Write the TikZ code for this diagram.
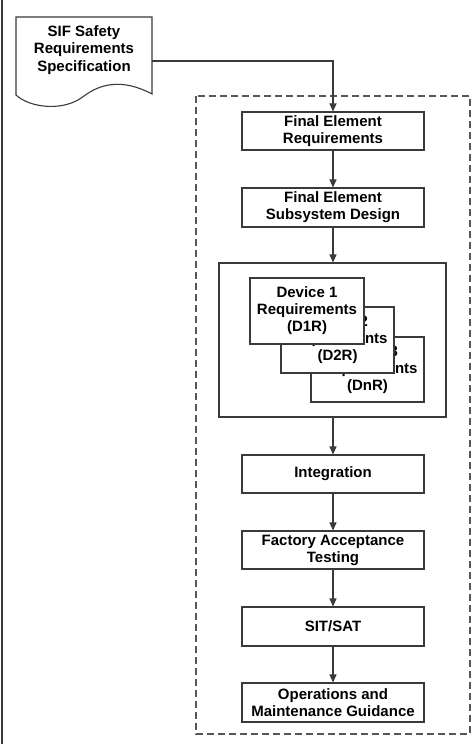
\documentclass[tikz,border=0pt]{standalone}
\usepackage{fontspec}
\setmainfont{Liberation Sans}
\usetikzlibrary{arrows.meta}
\definecolor{linec}{HTML}{3A3A3A}
\begin{document}
\begin{tikzpicture}[x=1pt,y=-1pt,
  box/.style={draw=linec,line width=1.1pt,fill=white,inner sep=0pt,align=center,
    font=\fontsize{15}{17}\selectfont\bfseries},
  arr/.style={draw=linec,line width=1.1pt,-{Triangle[length=8pt,width=7pt]}}]
\useasboundingbox (0,0) rectangle (472,744);
\fill[white] (0,0) rectangle (472,744);
\draw[linec,line width=1.2pt] (2,0) -- (2,744);
% dashed frame
\draw[linec!85,line width=1.1pt,dash pattern=on 7pt off 4pt] (196,96) rectangle (470,734);
% document shape
\draw[linec,line width=1.1pt,fill=white] (16,17) -- (152,17) -- (152,94)
  .. controls (122,78) and (100,84) .. (84,96)
  .. controls (64,112) and (30,108) .. (16,95) -- cycle;
\node[align=center,font=\fontsize{15}{17.5}\selectfont\bfseries] (sif) at (84,50) {SIF Safety\\Requirements\\Specification};
\coordinate (sifr) at (152,61);
% boxes
\node[box,minimum width=182pt,minimum height=38pt] (fer) at (333,131) {Final Element\\Requirements};
\node[box,minimum width=182pt,minimum height=39pt] (fesd) at (333,207.5) {Final Element\\Subsystem Design};
\node[box,minimum width=227pt,minimum height=154pt] (big) at (332.5,340) {};
\node[box,minimum width=113pt,minimum height=65pt] (dnr) at (367.5,369.5) {Device 3\\Requirements\\(DnR)};
\node[box,minimum width=113pt,minimum height=66pt] (d2r) at (337.5,340) {Device 2\\Requirements\\(D2R)};
\node[box,minimum width=114pt,minimum height=66pt] (d1r) at (307,311) {Device 1\\Requirements\\(D1R)};
\node[box,minimum width=182pt,minimum height=38pt] (int) at (333,474) {Integration};
\node[box,minimum width=182pt,minimum height=38pt] (fat) at (333,550) {Factory Acceptance\\Testing};
\node[box,minimum width=182pt,minimum height=39pt] (sit) at (333,626.5) {SIT/SAT};
\node[box,minimum width=182pt,minimum height=39pt] (om) at (333,702.5) {Operations and\\Maintenance Guidance};
% connectors
\coordinate (bend) at (333,61);
\draw[arr] (sifr) -- (bend) -- (fer.north);
\draw[arr] (fer.south) -- (fesd.north);
\draw[arr] (fesd.south) -- (fesd.south |- big.north);
\draw[arr] (fesd.south |- big.south) -- (int.north);
\draw[arr] (int.south) -- (fat.north);
\draw[arr] (fat.south) -- (sit.north);
\draw[arr] (sit.south) -- (om.north);
\end{tikzpicture}
\end{document}
